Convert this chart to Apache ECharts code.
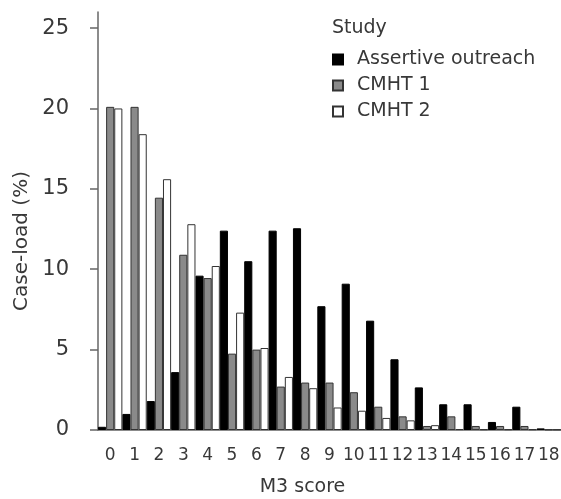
<!DOCTYPE html>
<html>
<head>
<meta charset="utf-8">
<script src="https://cdn.jsdelivr.net/npm/echarts@6/dist/echarts.min.js"></script>
<style>
  html, body { margin: 0; padding: 0; background: #fff; }
  #chart { width: 561px; height: 499px; }
</style>
</head>
<body>
<div id="chart"></div>
<script>
const scores = ["0", "1", "2", "3", "4", "5", "6", "7", "8", "9", "10", "11", "12", "13", "14", "15", "16", "17", "18"];
const assertive = [0.2, 1.0, 1.8, 3.6, 9.6, 12.4, 10.5, 12.4, 12.55, 7.7, 9.1, 6.8, 4.4, 2.65, 1.6, 1.6, 0.5, 1.45, 0.1];
const cmht1 = [20.1, 20.1, 14.45, 10.9, 9.45, 4.75, 5.0, 2.7, 2.95, 2.95, 2.35, 1.45, 0.85, 0.25, 0.85, 0.25, 0.25, 0.25, 0.03];
const cmht2 = [20.0, 18.4, 15.6, 12.8, 10.2, 7.3, 5.1, 3.3, 2.6, 1.4, 1.2, 0.75, 0.6, 0.3, 0.06, 0.05, 0.05, 0.05, 0.03];
const yTicks = [0, 5, 10, 15, 20, 25];

const FONT = "DejaVu Sans";
const TEXT = "#383838";
const AXIS = "#666";

const chart = echarts.init(document.getElementById("chart"), null, { renderer: "canvas" });

const barSeries = (name, data, color, border) => ({
  name,
  type: "bar",
  data,
  barGap: "0%",
  barCategoryGap: "0%",
  itemStyle: { color, borderColor: border, borderWidth: 1 },
  emphasis: { disabled: true },
});

chart.setOption({
  animation: false,
  backgroundColor: "#fff",
  textStyle: { fontFamily: FONT, color: TEXT },
  title: {
    text: "Study",
    left: 327,
    top: 14,
    textStyle: { fontFamily: FONT, fontSize: 19, fontWeight: "normal", color: TEXT },
  },
  legend: {
    orient: "vertical",
    left: 327,
    top: 45,
    itemWidth: 10,
    itemHeight: 10,
    itemGap: 7,
    icon: "rect",
    textStyle: { fontFamily: FONT, fontSize: 19, color: TEXT, padding: [0, 0, 0, 9] },
    data: ["Assertive outreach", "CMHT 1", "CMHT 2"],
  },
  grid: { left: 98, right: 0, top: 12, bottom: 69, outerBoundsMode: "none" },
  xAxis: {
    type: "category",
    data: scores,
    name: "M3 score",
    nameLocation: "middle",
    nameGap: 48,
    nameTextStyle: { fontFamily: FONT, fontSize: 19, color: TEXT, padding: [0, 54, 0, 0] },
    axisLine: { lineStyle: { color: AXIS, width: 1.5 } },
    axisTick: { alignWithLabel: true, length: 7, lineStyle: { color: AXIS, width: 1.5 } },
    axisLabel: { fontFamily: FONT, fontSize: 17, color: TEXT, margin: 17, interval: 0 },
  },
  yAxis: {
    type: "value",
    min: 0,
    max: 26,
    interval: 5,
    name: "Case-load (%)",
    nameLocation: "middle",
    nameGap: 64,
    nameTextStyle: { fontFamily: FONT, fontSize: 20, color: TEXT, padding: [0, 40, 0, 0] },
    splitLine: { show: false },
    axisLine: { show: true, lineStyle: { color: AXIS, width: 1.5 } },
    axisTick: { show: true, length: 8, customValues: yTicks, lineStyle: { color: AXIS, width: 1.5 } },
    axisLabel: { fontFamily: FONT, fontSize: 21, color: TEXT, margin: 29, customValues: yTicks },
  },
  series: [
    barSeries("Assertive outreach", assertive, "#000", "#000"),
    barSeries("CMHT 1", cmht1, "#8a8a8a", "#333"),
    barSeries("CMHT 2", cmht2, "#fff", "#333"),
  ],
});
</script>
</body>
</html>
